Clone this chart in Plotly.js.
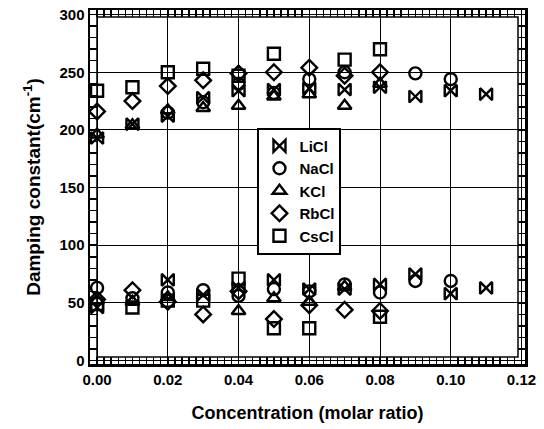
<!DOCTYPE html>
<html>
<head>
<meta charset="utf-8">
<script src="https://cdn.plot.ly/plotly-3.0.1.min.js"></script>
<style>html,body{margin:0;padding:0;background:#fff;}#chart{width:544px;height:429px;}</style>
</head>
<body>
<div id="chart"></div>
<script>
// Concentration (molar ratio)
const conc = [0, 0.01, 0.02, 0.03, 0.04, 0.05, 0.06, 0.07, 0.08, 0.09, 0.10, 0.11];
// Damping constants (cm^-1), upper and lower branches
const liclHigh = [193, 205, 212, 228, 234, 235, 236, 235, 237, 229, 234, 231];
const liclLow  = [46, null, 70, 57, 63, 70, 62, 62, 66, 75, 58, 63];
const naclHigh = [null, null, 215, 224, 240, 232, 244, 250, null, 249, 244, null];
const naclLow  = [63, 54, 59, 61, 56, 62, 60, 66, 59, 69, 69, null];
const kclHigh  = [196, 204, 217, 219, 221, 229, 231, 221, 240, null, null, null];
const kclLow   = [52, 51, 55, null, 43, 54, 51, 64, null, null, null, null];
const rbclHigh = [216, 225, 238, 243, 249, 250, 254, 247, 250, null, null, null];
const rbclLow  = [53, 61, 51, 40, 60, 36, 48, 44, 43, null, null, null];
const csclHigh = [234, 237, 250, 253, 247, 266, null, 261, 270, null, null, null];
const csclLow  = [49, 46, 52, 52, 71, 28, 28, null, 38, null, null, null];

const names = ['LiCl', 'NaCl', 'KCl', 'RbCl', 'CsCl'];
const highs = [liclHigh, naclHigh, kclHigh, rbclHigh, csclHigh];
const lows = [liclLow, naclLow, kclLow, rbclLow, csclLow];
const symbols = ['bowtie-open', 'circle-open', 'triangle-up-open', 'diamond-open', 'square-open'];

const traces = names.map((n, i) => ({
  type: 'scatter', mode: 'markers', name: n,
  x: conc.concat(conc),
  y: highs[i].concat(lows[i]),
  marker: {symbol: symbols[i], size: 12, color: 'black', line: {color: 'black', width: 2.4}}
}));

const font = {family: 'Arial, "Liberation Sans", sans-serif', color: 'black', size: 15, weight: 700};
const W = 435, H = 354, inset = 7;
const layout = {
  width: 544, height: 429,
  margin: {l: 90, r: 19, t: 10, b: 65},
  paper_bgcolor: 'white', plot_bgcolor: 'white',
  font: font,
  showlegend: true,
  legend: {x: 0.385, y: 0.668, xanchor: 'left', yanchor: 'top', bgcolor: 'white',
           bordercolor: 'black', borderwidth: 2, font: {...font, size: 15}, tracegroupgap: 0},
  xaxis: {
    range: [-0.002, 0.121], dtick: 0.02, tick0: 0, tickformat: '.2f',
    showline: true, linecolor: 'black', linewidth: 2.5, mirror: 'allticks',
    ticks: 'inside', ticklen: inset, tickwidth: 1.5, tickcolor: 'black',
    minor: {ticks: 'inside', ticklen: inset, dtick: 0.002, tickwidth: 1.5, tickcolor: 'black', showgrid: false},
    showgrid: true, gridcolor: 'black', gridwidth: 1, zeroline: false,
    tickfont: {...font, size: 15},
    title: {text: 'Concentration (molar ratio)', font: {...font, size: 18}, standoff: 20}
  },
  yaxis: {
    range: [-3, 304], dtick: 50, tick0: 0,
    showline: true, linecolor: 'black', linewidth: 2.5, mirror: 'allticks',
    ticks: 'inside', ticklen: inset, tickwidth: 1.5, tickcolor: 'black',
    minor: {ticks: 'inside', ticklen: inset, dtick: 10, tickwidth: 1.5, tickcolor: 'black', showgrid: false},
    showgrid: true, gridcolor: 'black', gridwidth: 1, zeroline: false,
    tickfont: {...font, size: 15},
    title: {text: 'Damping constant(cm<sup>-1</sup>)', font: {...font, size: 19}, standoff: 14}
  },
  shapes: [{
    type: 'rect', xref: 'paper', yref: 'paper',
    x0: inset / W, x1: 1 - inset / W, y0: inset / H, y1: 1 - inset / H,
    line: {color: 'black', width: 1.5}, fillcolor: 'rgba(0,0,0,0)', layer: 'above'
  }]
};
Plotly.newPlot('chart', traces, layout, {displayModeBar: false, staticPlot: true});
</script>
</body>
</html>
